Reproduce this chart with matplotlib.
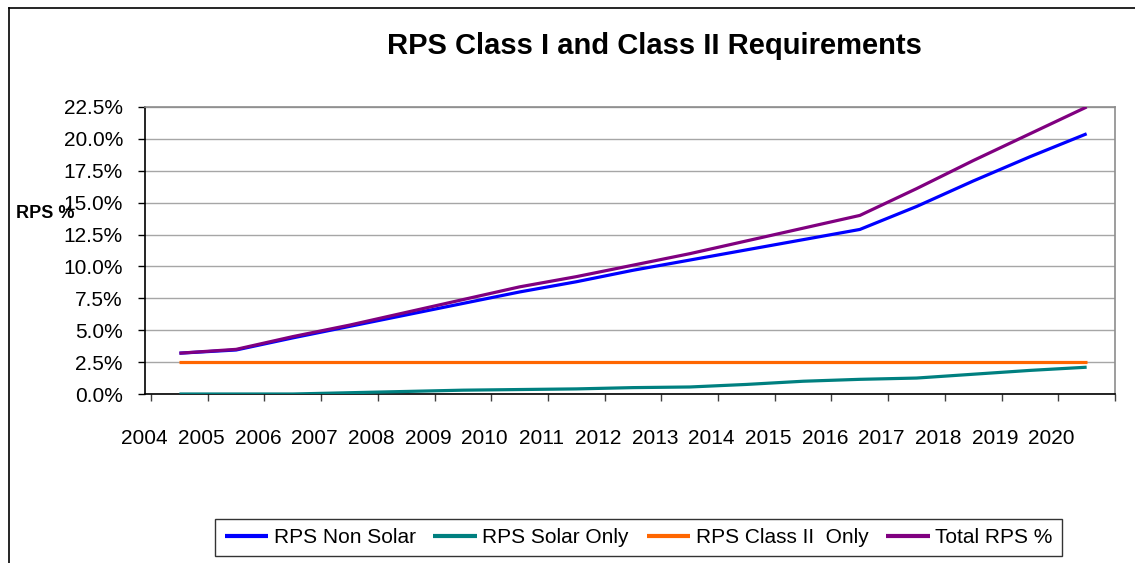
import numpy as np
import matplotlib
matplotlib.use("Agg")
import matplotlib.pyplot as plt
from matplotlib.lines import Line2D

plt.rcParams['font.family'] = ['Liberation Sans', 'DejaVu Sans']

# ---- data (percent) ----
year_labels = [str(y) for y in range(2004, 2021)]
non_solar = [3.2, 3.45, 4.4, 5.3, 6.2, 7.1, 8.0, 8.8, 9.7, 10.5, 11.3, 12.1, 12.9, 14.7, 16.7, 18.6, 20.4]
solar_only = [0.0, 0.0, 0.0, 0.1, 0.2, 0.3, 0.35, 0.4, 0.5, 0.55, 0.75, 1.0, 1.15, 1.25, 1.55, 1.85, 2.1]
class2_only = [2.5] * 17
total_rps = [3.2, 3.5, 4.5, 5.4, 6.4, 7.4, 8.4, 9.2, 10.1, 11.0, 12.0, 13.0, 14.0, 16.1, 18.3, 20.4, 22.5]
y_ticks = [0, 2.5, 5, 7.5, 10, 12.5, 15, 17.5, 20, 22.5]

series = [
    ("RPS Non Solar", non_solar, "#0000FF"),
    ("RPS Solar Only", solar_only, "#008080"),
    ("RPS Class II  Only", class2_only, "#FF6600"),
    ("Total RPS %", total_rps, "#800080"),
]

W, H = 1135, 563
fig = plt.figure(figsize=(W / 100, H / 100), dpi=100)
fig.patch.set_facecolor("white")

L, R, T, B = 144.5, 1115, 107, 394
ax = fig.add_axes([L / W, 1 - B / H, (R - L) / W, (B - T) / H])

x = np.arange(len(non_solar))
for name, vals, col in series:
    ax.plot(x, vals, color=col, lw=2.3, label=name, solid_capstyle="butt", zorder=3)

ax.set_xlim(-0.5, len(x) - 0.5)
ax.set_ylim(0, 22.5)

ax.set_yticks(y_ticks)
ax.set_yticklabels([f"{v:.1f}%" for v in y_ticks])
ax.yaxis.grid(True, color="#a6a6a6", lw=1.0)
ax.set_axisbelow(True)
ax.tick_params(axis="y", direction="out", length=5, width=1, colors="black",
               labelsize=15, pad=10.5)

# category boundary tick marks
bounds = np.arange(len(x) + 1) - 0.5
ax.set_xticks(bounds, minor=True)
ax.tick_params(axis="x", which="minor", direction="out", length=5, width=1, color="#404040")
# labels at boundaries, slightly left
lab_pos = bounds[:-1] - 0.116
ax.set_xticks(lab_pos)
ax.set_xticklabels(year_labels)
ax.tick_params(axis="x", which="major", length=0, labelsize=15, pad=25)

for s in ["left", "bottom"]:
    ax.spines[s].set_color("black")
    ax.spines[s].set_linewidth(1.2)
for s in ["top", "right"]:
    ax.spines[s].set_color("#8c8c8c")
    ax.spines[s].set_linewidth(1.2)

fig.text(654 / W, 1 - 46 / H, "RPS Class I and Class II Requirements",
         fontsize=21, fontweight="bold", ha="center", va="center")
fig.text(16 / W, 1 - 213 / H, "RPS %", fontsize=13, fontweight="bold",
         ha="left", va="center")

# outer frame (left and top)
fig.add_artist(Line2D([9 / W, 9 / W], [0, 1 - 8 / H], transform=fig.transFigure,
                      color="black", lw=1.2))
fig.add_artist(Line2D([9 / W, 1], [1 - 8 / H, 1 - 8 / H], transform=fig.transFigure,
                      color="black", lw=1.2))

leg = fig.legend(loc="center", bbox_to_anchor=(638.5 / W, 1 - 537.5 / H), ncol=4,
                 fontsize=15, frameon=True, fancybox=False, handlelength=2.1,
                 handletextpad=0.25, columnspacing=0.85, borderpad=0.45,
                 borderaxespad=0)
leg.get_frame().set_edgecolor("black")
leg.get_frame().set_linewidth(1.0)
for h in leg.get_lines():
    h.set_linewidth(3)

fig.savefig("out.png", dpi=100)
